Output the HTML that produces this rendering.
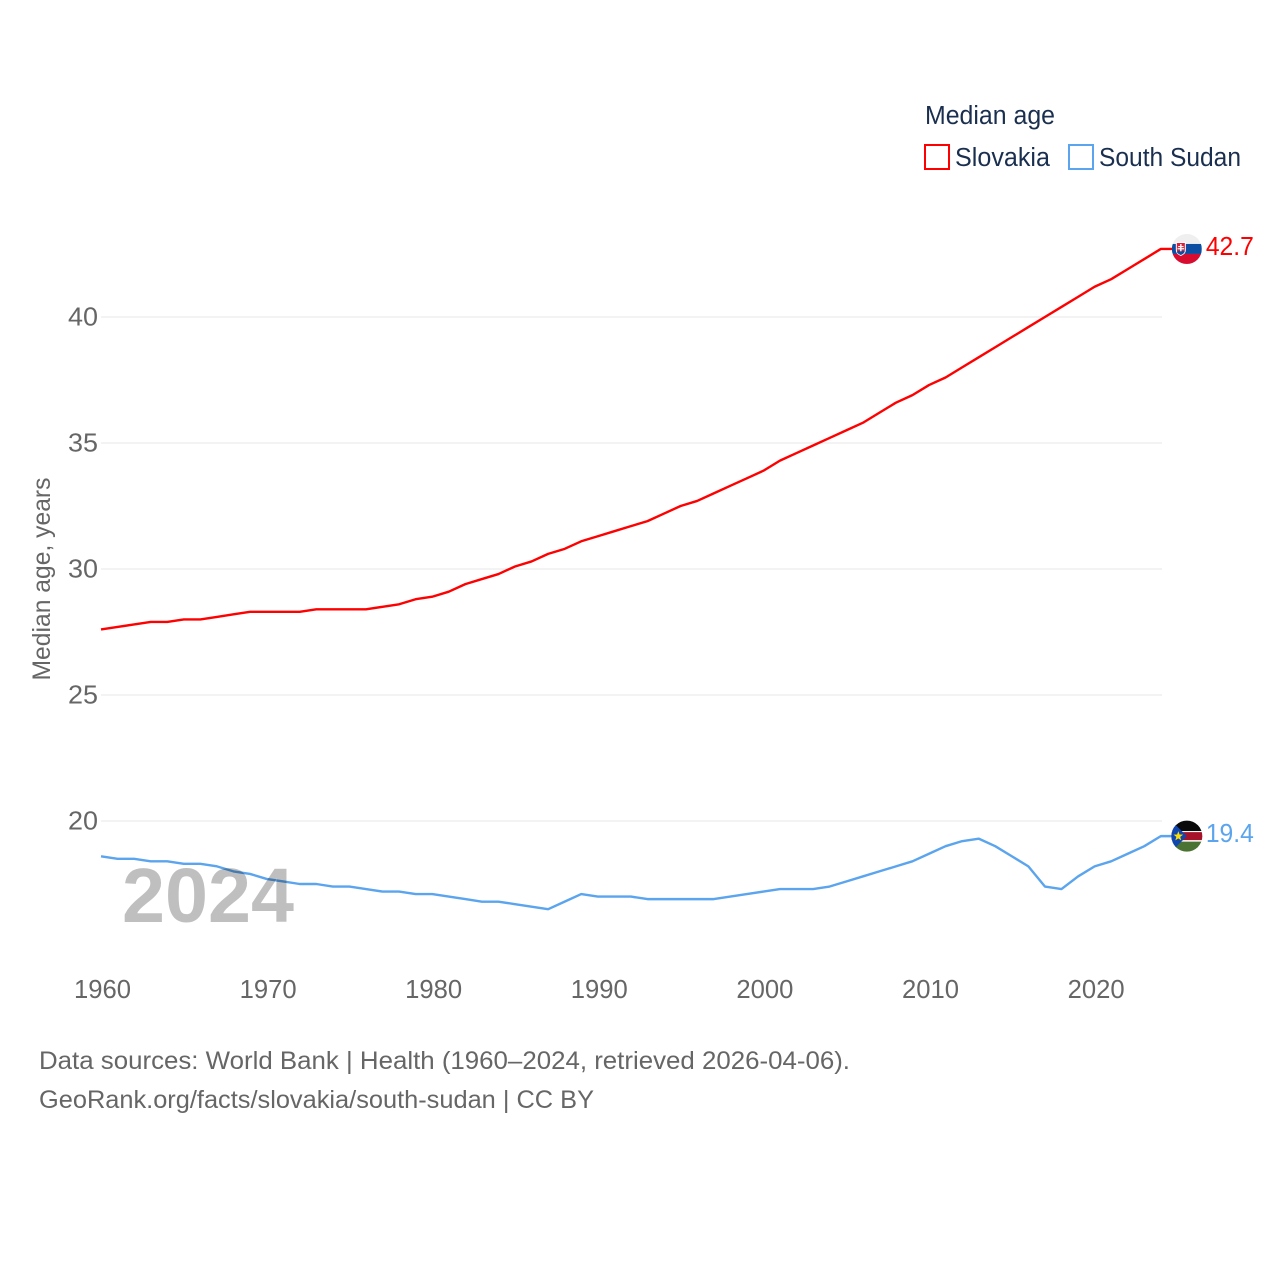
<!DOCTYPE html>
<html lang="en">
<head>
<meta charset="utf-8">
<title>Median age: Slovakia vs South Sudan</title>
<style>
  html, body { margin: 0; padding: 0; background: #fff; }
  svg { display: block; }
  text { font-family: "Liberation Sans", sans-serif; }
</style>
</head>
<body>
<svg id="chart" xmlns="http://www.w3.org/2000/svg" width="1280" height="1280" viewBox="0 0 1280 1280">
  <defs>
    <clipPath id="clip-sk"><circle id="clip-sk-circle" cx="0" cy="0" r="15"></circle></clipPath>
    <clipPath id="clip-ss"><circle id="clip-ss-circle" cx="0" cy="0" r="15.5"></circle></clipPath>
  </defs>
  <rect x="0" y="0" width="1280" height="1280" fill="#ffffff"></rect>
  <g id="grid"></g>
  <g id="y-ticks"></g>
  <g id="x-ticks"></g>
  <text transform="translate(50,579) rotate(-90)" text-anchor="middle" font-size="25" fill="#666666" textLength="203" lengthAdjust="spacingAndGlyphs">Median age, years</text>
  <g id="series"></g>
  <text id="year-label" x="122" y="922" font-size="77" font-weight="700" fill="#000000" fill-opacity="0.25" textLength="172" lengthAdjust="spacingAndGlyphs">2024</text>

  <g id="flag-slovakia">
    <g clip-path="url(#clip-sk)">
      <rect x="-15" y="-15" width="30" height="10" fill="#efefef"></rect>
      <rect x="-15" y="-5" width="30" height="10" fill="#0b4ea2"></rect>
      <rect x="-15" y="5" width="30" height="10" fill="#d80c2f"></rect>
      <path d="M-11-7h10v8q0 4-5 6q-5-2-5-6z" fill="#ffffff"></path>
      <path d="M-10-6h8v7q0 3-4 5q-4-2-4-5z" fill="#d8233a"></path>
      <path d="M-6.7-5h1.4v2h2v1.2h-2v1h2.6v1.2h-2.6v2.6h-1.4v-2.6h-2.6v-1.2h2.6v-1h-2v-1.2h2z" fill="#ffffff"></path>
      <path d="M-10 3q2-2 4-0.5q2-1.5 4 0q-1 2.5-4 3.5q-3-1-4-3z" fill="#0b4ea2"></path>
    </g>
  </g>
  <g id="flag-south-sudan">
    <g clip-path="url(#clip-ss)">
      <rect x="-16" y="-16" width="32" height="11" fill="#0a0a0a"></rect>
      <rect x="-16" y="-5" width="32" height="11" fill="#ffffff"></rect>
      <rect x="-16" y="-4" width="32" height="8" fill="#a5122a"></rect>
      <rect x="-16" y="5.5" width="32" height="11" fill="#4a7233"></rect>
      <path d="M-16-16L0 0L-16 16z" fill="#0f47af"></path>
      <path d="M-8.5-5l1.2 3.4l3.6 0.1l-2.9 2.2l1 3.5l-2.9-2l-3 2l1-3.5l-2.8-2.2l3.6-0.1z" fill="#fcdd09"></path>
    </g>
  </g>
  <g id="value-labels"></g>

  <g>
    <text x="925" y="124" font-size="25.5" fill="#1a2f4f" textLength="130" lengthAdjust="spacingAndGlyphs">Median age</text>
    <g>
      <rect x="925" y="145" width="24" height="24" fill="#ffffff" stroke="#ff0000" stroke-width="2"></rect>
      <text x="955" y="166" font-size="25.5" fill="#1a2f4f" textLength="95" lengthAdjust="spacingAndGlyphs">Slovakia</text>
    </g>
    <g>
      <rect x="1069" y="145" width="24" height="24" fill="#ffffff" stroke="#5ba4ee" stroke-width="2"></rect>
      <text x="1099" y="166" font-size="25.5" fill="#1a2f4f" textLength="142" lengthAdjust="spacingAndGlyphs">South Sudan</text>
    </g>
  </g>

  <text x="39" y="1069" font-size="25" fill="#666666" textLength="811" lengthAdjust="spacingAndGlyphs">Data sources: World Bank | Health (1960–2024, retrieved 2026-04-06).</text>
  <text x="39" y="1108" font-size="25" fill="#666666" textLength="555" lengthAdjust="spacingAndGlyphs">GeoRank.org/facts/slovakia/south-sudan | CC BY</text>
</svg>

<script>
const startYear = 1960;
const slovakiaValues = [27.6,27.7,27.8,27.9,27.9,28.0,28.0,28.1,28.2,28.3,28.3,28.3,28.3,28.4,28.4,28.4,28.4,28.5,28.6,28.8,28.9,29.1,29.4,29.6,29.8,30.1,30.3,30.6,30.8,31.1,31.3,31.5,31.7,31.9,32.2,32.5,32.7,33.0,33.3,33.6,33.9,34.3,34.6,34.9,35.2,35.5,35.8,36.2,36.6,36.9,37.3,37.6,38.0,38.4,38.8,39.2,39.6,40.0,40.4,40.8,41.2,41.5,41.9,42.3,42.7];
const southSudanValues = [18.6,18.5,18.5,18.4,18.4,18.3,18.3,18.2,18.0,17.9,17.7,17.6,17.5,17.5,17.4,17.4,17.3,17.2,17.2,17.1,17.1,17.0,16.9,16.8,16.8,16.7,16.6,16.5,16.8,17.1,17.0,17.0,17.0,16.9,16.9,16.9,16.9,16.9,17.0,17.1,17.2,17.3,17.3,17.3,17.4,17.6,17.8,18.0,18.2,18.4,18.7,19.0,19.2,19.3,19.0,18.6,18.2,17.4,17.3,17.8,18.2,18.4,18.7,19.0,19.4];
const yTickValues = [20,25,30,35,40];
const xTickValues = [1960,1970,1980,1990,2000,2010,2020];

const SVG_NS = 'http://www.w3.org/2000/svg';
const xAxis = function (year) { return 101 + (year - 1960) * 16.56; };
const yAxis = function (value) { return 317 + (40 - value) * 25.2; };

function make(tag, attrs, parent) {
  const el = document.createElementNS(SVG_NS, tag);
  for (const key in attrs) { el.setAttribute(key, attrs[key]); }
  parent.appendChild(el);
  return el;
}

const gridGroup = document.getElementById('grid');
const yTickGroup = document.getElementById('y-ticks');
const xTickGroup = document.getElementById('x-ticks');
const seriesGroup = document.getElementById('series');
const labelGroup = document.getElementById('value-labels');

yTickValues.forEach(function (tick) {
  const line = make('line', { x1: 101, x2: 1162, y1: yAxis(tick), y2: yAxis(tick), stroke: '#ececec', 'stroke-width': 1.2 }, gridGroup);
  
  
  const label = make('text', { x: 98, y: yAxis(tick) + 8.5, 'text-anchor': 'end', 'font-size': 25.5, fill: '#666666', textLength: 30, lengthAdjust: 'spacingAndGlyphs' }, yTickGroup);
  label.textContent = String(tick);
  
  
});

xTickValues.forEach(function (tick) {
  const label = make('text', { x: xAxis(tick) + 1.5, y: 998, 'text-anchor': 'middle', 'font-size': 25.5, fill: '#666666', textLength: 57, lengthAdjust: 'spacingAndGlyphs' }, xTickGroup);
  label.textContent = String(tick);
  
  
});

function drawSeries(values, color, name, flagId) {
  const lastYear = startYear + values.length - 1;
  const lastValue = values[values.length - 1];
  const endY = yAxis(lastValue);
  const pts = values.map(function (v, i) { return xAxis(startYear + i).toFixed(2) + ',' + yAxis(v).toFixed(2); });
  pts.push((xAxis(lastYear) + 12).toFixed(2) + ',' + endY.toFixed(2));
  const line = make('polyline', { points: pts.join(' '), fill: 'none', stroke: color, 'stroke-width': 2.4, 'stroke-linejoin': 'round' }, seriesGroup);
  
  
  const flagX = xAxis(lastYear) + 26;
  document.getElementById(flagId).setAttribute('transform', 'translate(' + flagX + ',' + endY + ')');
  const label = make('text', { x: flagX + 19, y: endY + 6, 'font-size': 25.5, fill: color, textLength: 48, lengthAdjust: 'spacingAndGlyphs' }, labelGroup);
  label.textContent = lastValue.toFixed(1);
  
  
}

drawSeries(slovakiaValues, '#ff0000', 'slovakia', 'flag-slovakia');
drawSeries(southSudanValues, '#5ba4ee', 'south-sudan', 'flag-south-sudan');
</script>
</body>
</html>
